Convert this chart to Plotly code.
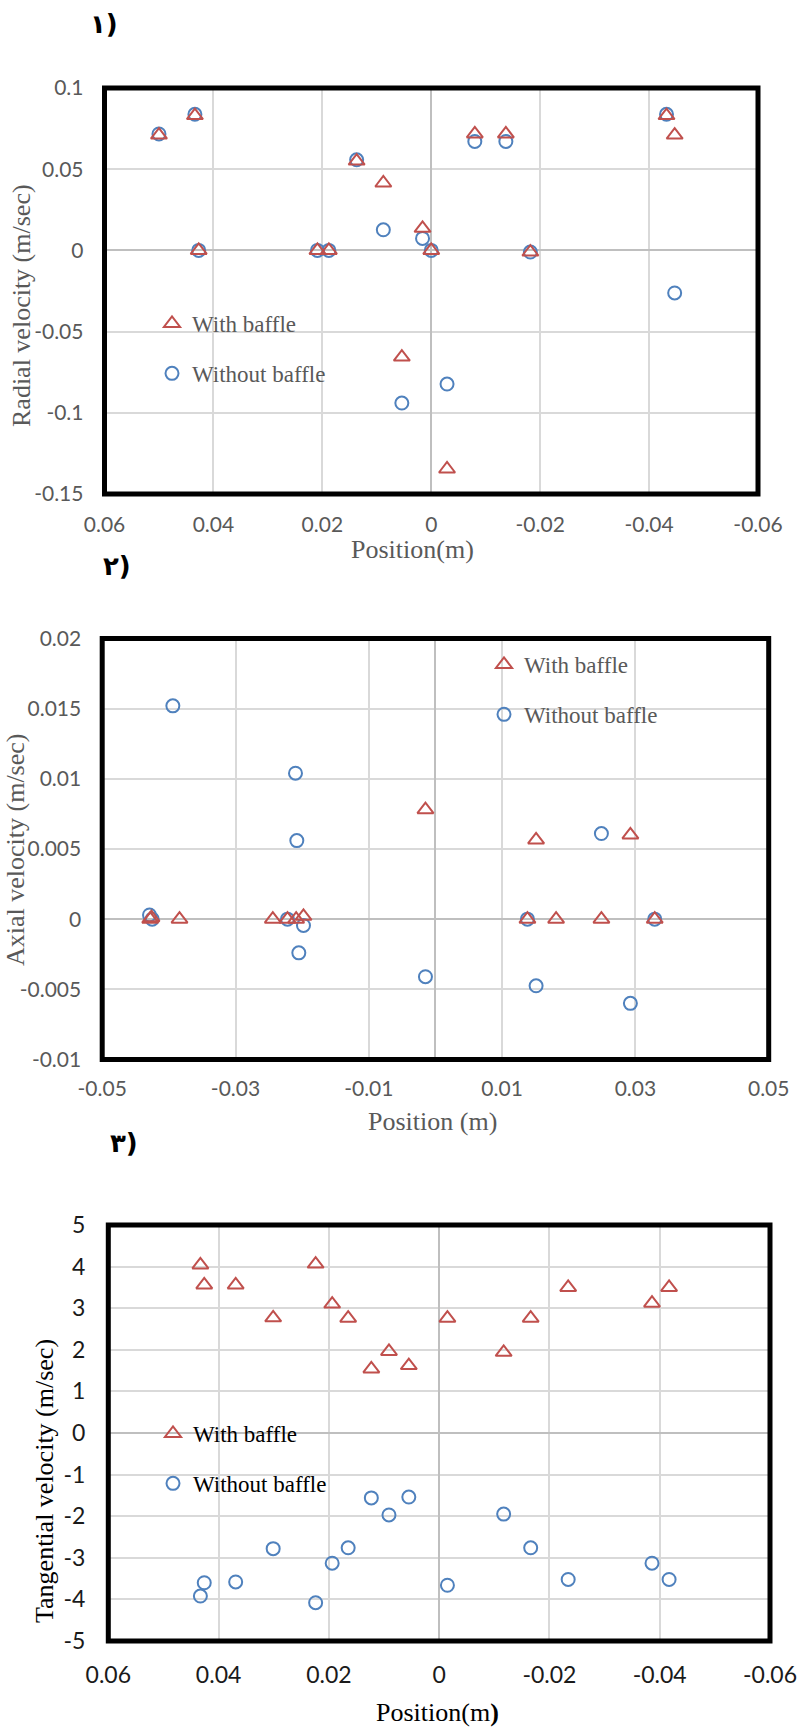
import plotly.graph_objects as go

W, H = 802, 1729

# ---------------- data ----------------
# Panel 1 : radial velocity
p1_pos = [0.0500, 0.0434, 0.0427, 0.0209, 0.0188, 0.0137, 0.0088, 0.0054,
          0.0016, 0.0000, -0.0029, -0.0080, -0.0137, -0.0182, -0.0432, -0.0447]
p1_with = [0.0710, 0.0830, 0.0000, 0.0000, 0.0000, 0.0550, 0.0415, -0.0657,
           0.0136, 0.0000, -0.1346, 0.0717, 0.0717, -0.0010, 0.0830, 0.0710]
p1_without = [0.0717, 0.0838, 0.0000, 0.0000, 0.0000, 0.0558, 0.0127, -0.0940,
              0.0074, 0.0000, -0.0823, 0.0671, 0.0671, -0.0010, 0.0838, -0.0262]

# Panel 2 : axial velocity
p2_pos_with = [-0.0428, -0.0426, -0.0384, -0.0244, -0.0222, -0.0209, -0.0198,
               -0.0015, 0.0138, 0.0151, 0.0181, 0.0249, 0.02925, 0.0329]
p2_with = [0.0000, 0.0001, 0.0000, 0.0000, 0.0000, 0.0000, 0.0002,
           0.0078, 0.0000, 0.00565, 0.0000, 0.0000, 0.0060, 0.0000]
p2_pos_without = [-0.0429, -0.0425, -0.0394, -0.0222, -0.0210, -0.0208, -0.0205,
                  -0.0198, -0.0015, 0.0138, 0.0151, 0.0249, 0.02925, 0.0329]
p2_without = [0.0003, 0.0000, 0.0152, 0.0000, 0.0104, 0.0056, -0.0024,
              -0.00045, -0.0041, 0.0000, -0.00475, 0.0061, -0.0060, 0.0000]

# Panel 3 : tangential velocity
p3_pos = [0.0433, 0.0426, 0.0369, 0.0301, 0.0224, 0.0194, 0.0165, 0.0123,
          0.0091, 0.0055, -0.0015, -0.0117, -0.0166, -0.0234, -0.0386, -0.0417]
p3_with = [4.04, 3.56, 3.56, 2.77, 4.06, 3.10, 2.76, 1.54,
           1.96, 1.62, 2.76, 1.94, 2.76, 3.50, 3.12, 3.50]
p3_without = [-3.92, -3.60, -3.58, -2.78, -4.08, -3.13, -2.76, -1.56,
              -1.97, -1.54, -3.66, -1.95, -2.76, -3.52, -3.13, -3.52]

# tick labels
x13_ticks = [0.06, 0.04, 0.02, 0, -0.02, -0.04, -0.06]
x13_text = ["0.06", "0.04", "0.02", "0", "-0.02", "-0.04", "-0.06"]
y1_ticks = [0.1, 0.05, 0, -0.05, -0.1, -0.15]
y1_text = ["0.1", "0.05", "0", "-0.05", "-0.1", "-0.15"]
x2_ticks = [-0.05, -0.03, -0.01, 0.01, 0.03, 0.05]
x2_text = ["-0.05", "-0.03", "-0.01", "0.01", "0.03", "0.05"]
y2_ticks = [0.02, 0.015, 0.01, 0.005, 0, -0.005, -0.01]
y2_text = ["0.02", "0.015", "0.01", "0.005", "0", "-0.005", "-0.01"]
y3_ticks = [5, 4, 3, 2, 1, 0, -1, -2, -3, -4, -5]
y3_text = ["5", "4", "3", "2", "1", "0", "-1", "-2", "-3", "-4", "-5"]

series_names = ["With baffle", "Without baffle"]

# ---------------- style ----------------
RED = "#C0504D"
BLUE = "#4F81BD"
GRAY = "#595959"
GRID = "#D9D9D9"
ZERO = "#BFBFBF"
TICKFONT = "Lato, 'Open Sans', sans-serif"
SERIF = "'Liberation Serif', 'Times New Roman', serif"


def px(x):
    return x / W


def py(y):
    return 1 - y / H


panels = [
    dict(x0=104.5, x1=758.0, y0=88.0, y1=494.0),
    dict(x0=102.2, x1=768.7, y0=638.5, y1=1059.5),
    dict(x0=108.3, x1=770.0, y0=1225.0, y1=1641.0),
]

fig = go.Figure()

tri = dict(symbol="triangle-up-open", size=14, color=RED, line=dict(width=2, color=RED))
circ = dict(symbol="circle-open", size=13, color=BLUE, line=dict(width=2, color=BLUE))

data_sets = [
    (p1_pos, p1_with, p1_pos, p1_without),
    (p2_pos_with, p2_with, p2_pos_without, p2_without),
    (p3_pos, p3_with, p3_pos, p3_without),
]
for i, (xw, yw, xo, yo) in enumerate(data_sets):
    sx = "x" if i == 0 else f"x{i+1}"
    sy = "y" if i == 0 else f"y{i+1}"
    lg = "legend" if i == 0 else f"legend{i+1}"
    fig.add_trace(go.Scatter(x=xo, y=yo, mode="markers", name=series_names[1],
                             marker=circ, xaxis=sx, yaxis=sy, legend=lg,
                             legendgroup=f"o{i}", legendrank=2, cliponaxis=False))
    fig.add_trace(go.Scatter(x=xw, y=yw, mode="markers", name=series_names[0],
                             marker=tri, xaxis=sx, yaxis=sy, legend=lg,
                             legendgroup=f"w{i}", legendrank=1, cliponaxis=False))


def axis_common(tickcolor, size, standoff):
    return dict(showgrid=True, gridcolor=GRID, gridwidth=1.5,
                zeroline=True, zerolinecolor=ZERO, zerolinewidth=1.6,
                showline=False, ticks="", ticklabelstandoff=standoff,
                automargin=False,
                tickfont=dict(family=TICKFONT, size=size, color=tickcolor))


p = panels
fig.update_layout(
    width=W, height=H,
    margin=dict(l=0, r=0, t=0, b=0, pad=0, autoexpand=False),
    paper_bgcolor="white", plot_bgcolor="white",
    showlegend=True,
    xaxis=dict(domain=[px(p[0]["x0"]), px(p[0]["x1"])], range=[0.06, -0.06],
               tickvals=x13_ticks, ticktext=x13_text, anchor="y",
               **axis_common(GRAY, 21, 16)),
    yaxis=dict(domain=[py(p[0]["y1"]), py(p[0]["y0"])], range=[-0.15, 0.1],
               tickvals=y1_ticks, ticktext=y1_text, anchor="x",
               **axis_common(GRAY, 21, 20)),
    xaxis2=dict(domain=[px(p[1]["x0"]), px(p[1]["x1"])], range=[-0.05, 0.05],
                tickvals=x2_ticks, ticktext=x2_text, anchor="y2",
                **axis_common(GRAY, 21, 14)),
    yaxis2=dict(domain=[py(p[1]["y1"]), py(p[1]["y0"])], range=[-0.01, 0.02],
                tickvals=y2_ticks, ticktext=y2_text, anchor="x2",
                **axis_common(GRAY, 21, 20)),
    xaxis3=dict(domain=[px(p[2]["x0"]), px(p[2]["x1"])], range=[0.06, -0.06],
                tickvals=x13_ticks, ticktext=x13_text, anchor="y3",
                **axis_common("#1a1a1a", 23, 18)),
    yaxis3=dict(domain=[py(p[2]["y1"]), py(p[2]["y0"])], range=[-5, 5],
                tickvals=y3_ticks, ticktext=y3_text, anchor="x3",
                **axis_common("#1a1a1a", 23, 22)),
)

legend_pos = [(152, 302, GRAY), (484, 643, GRAY), (153, 1412, "#000000")]
for i, (lx, ly, col) in enumerate(legend_pos):
    key = "legend" if i == 0 else f"legend{i+1}"
    fig.update_layout(**{key: dict(
        x=px(lx), y=py(ly), xanchor="left", yanchor="top",
        bgcolor="rgba(0,0,0,0)", borderwidth=0,
        font=dict(family=SERIF, size=23, color=col),
        traceorder="grouped", tracegroupgap=17, itemsizing="trace")})

# plot-area borders
for i in range(3):
    sx = "x" if i == 0 else f"x{i+1}"
    sy = "y" if i == 0 else f"y{i+1}"
    fig.add_shape(type="rect", xref=f"{sx} domain", yref=f"{sy} domain",
                  x0=0, x1=1, y0=0, y1=1, layer="above",
                  line=dict(color="black", width=5))


def ann(text, x, y, size, color, angle=0, family=SERIF):
    fig.add_annotation(text=text, x=px(x), y=py(y), xref="paper", yref="paper",
                       xanchor="center", yanchor="middle", showarrow=False,
                       textangle=angle, font=dict(family=family, size=size, color=color))


# axis titles
ann("Position(m)", 412, 550, 26, GRAY)
ann("Radial velocity (m/sec)", 22, 306, 26, GRAY, -90)
ann("Position (m)", 432, 1121, 26, GRAY)
ann("Axial velocity (m/sec)", 15, 850, 26, GRAY, -90)
ann("Position(m<b>)</b>", 438, 1712, 26, "#000000")
ann("Tangential velocity (m/sec)", 44, 1481, 26, "#000000", -90)

# panel labels
ann("<b>۱)</b>", 104, 24, 26, "#000000", family="'DejaVu Sans', sans-serif")
ann("<b>۲)</b>", 117, 566, 26, "#000000", family="'DejaVu Sans', sans-serif")
ann("<b>۳)</b>", 124, 1143, 26, "#000000", family="'DejaVu Sans', sans-serif")

fig.write_html("out.html")
